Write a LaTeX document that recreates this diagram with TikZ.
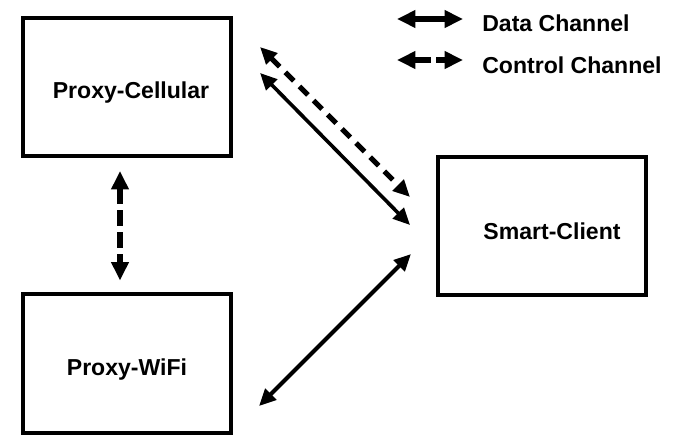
\documentclass[tikz,border=0pt]{standalone}
\usepackage{fontspec}
\setmainfont{Liberation Sans}
\usetikzlibrary{arrows.meta}
\tikzset{
    box/.style={rectangle, draw, line width=0.1cm, minimum width=5.2cm,
        minimum height=3.45cm, inner sep=0pt, outer sep=0pt}
}
\tikzset{
    tag/.style={font=\fontsize{16.4}{19}\selectfont\bfseries, inner sep=0pt}
}
\tikzset{
    data/.style={line width=0.09cm,
        {Triangle[length=0.42cm, width=0.38cm]}-{Triangle[length=0.42cm, width=0.38cm]}},
    control/.style={data, line width=0.13cm, dash pattern=on 0.3cm off 0.2cm},
    bigtips/.style={{Triangle[length=0.46cm, width=0.42cm]}-{Triangle[length=0.46cm, width=0.42cm]}}
}

\begin{document}
\begin{tikzpicture}[x=0.025cm, y=-0.025cm]
	\useasboundingbox (0,0) rectangle (682,434);

	\node (cell) [box, label={[tag, name=cellText, xshift=0.1cm, yshift=-0.15cm]center:Proxy-Cellular}] at (127, 87) {};
	\node (wifi) [box, label={[tag, name=wifiText, yshift=-0.15cm]center:Proxy-WiFi}] at (127, 363.5) {};
	\node (client) [box, label={[tag, name=clientText, xshift=0.25cm, yshift=-0.12cm]center:Smart-Client}] at (542, 226) {};

	% legend
	\coordinate (dataL) at (397, 19); \coordinate (dataR) at (463, 19);
	\coordinate (ctrlL) at (397, 60); \coordinate (ctrlR) at (463, 60);
	\draw[data, bigtips, line width=0.16cm] (dataL) -- (dataR);
	\draw[control, bigtips, line width=0.16cm, dash pattern=on 0.42cm off 0.13cm] (ctrlL) -- (ctrlR);
	\node (dataKey) [tag, anchor=west] at (482, 23.5) {Data Channel};
	\node (ctrlKey) [tag, anchor=west] at (482, 65.5) {Control Channel};

	\draw[control] ([shift={(29,29)}]cell.north east) -- ([shift={(-28,40)}]client.north west);
	\draw[data] ([shift={(29,55)}]cell.north east) -- ([shift={(-28,68)}]client.north west);
	\draw[data, line width=0.1cm] ([shift={(28,42.5)}]wifi.east) -- ([shift={(-27,28)}]client.west);
	\draw[control, bigtips, line width=0.17cm, dash pattern=on 0.4cm off 0.15cm]
		([shift={(-7,15)}]cell.south) -- ([shift={(-7,-14)}]wifi.north);
\end{tikzpicture}
\end{document}
